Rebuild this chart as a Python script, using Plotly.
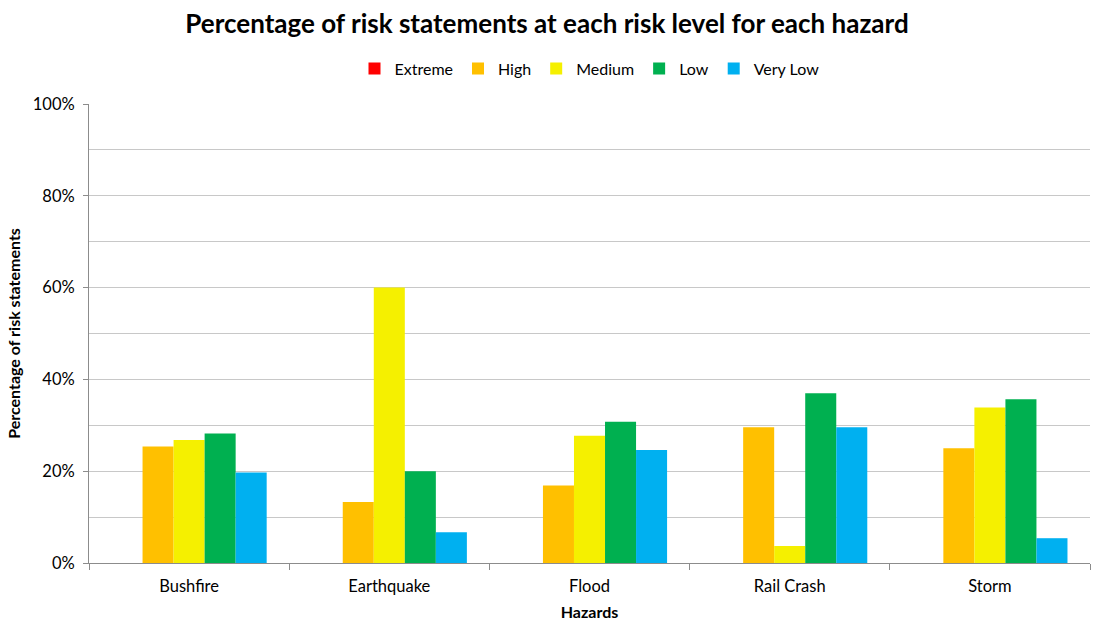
import plotly.graph_objects as go

hazards = ["Bushfire", "Earthquake", "Flood", "Rail Crash", "Storm"]
risk_levels = ["Extreme", "High", "Medium", "Low", "Very Low"]

# share of risk statements (fraction) per risk level, one list per level
extreme = [0.0, 0.0, 0.0, 0.0, 0.0]
high = [0.254, 0.133, 0.169, 0.296, 0.250]
medium = [0.268, 0.600, 0.277, 0.037, 0.339]
low = [0.282, 0.200, 0.308, 0.370, 0.357]
very_low = [0.197, 0.067, 0.246, 0.296, 0.054]

series = [extreme, high, medium, low, very_low]
colors = ["#FF0000", "#FFC000", "#F5F000", "#00B050", "#00B0F0"]

FONT = "Lato"

fig = go.Figure()
for name, vals, col in zip(risk_levels, series, colors):
    fig.add_trace(go.Bar(
        name=name, x=hazards, y=vals,
        marker=dict(color=col, line=dict(width=0)),
    ))

fig.update_layout(
    width=1094, height=622,
    paper_bgcolor="white", plot_bgcolor="white",
    font=dict(family=FONT, size=16, color="#000000"),
    title=dict(
        text="<b>Percentage of risk statements at each risk level for each hazard</b>",
        x=0.5, xanchor="center", y=0.962, yanchor="middle",
        font=dict(size=26, family=FONT, color="#000000"),
    ),
    barmode="group", bargap=0.225, bargroupgap=0.0,
    margin=dict(l=89, r=4, t=104, b=59),
    legend=dict(
        orientation="h", x=0.5, xanchor="center", y=1.077, yanchor="middle",
        font=dict(size=16, family=FONT), itemwidth=30, traceorder="normal",
    ),
    xaxis=dict(
        showline=True, linecolor="#8c8c8c", linewidth=1,
        ticks="outside", tickson="boundaries", ticklen=6, tickcolor="#8c8c8c",
        ticklabelstandoff=8,
        tickfont=dict(size=16.5, family=FONT),
        title=dict(text="<b>Hazards</b>", font=dict(size=16, family=FONT), standoff=12),
    ),
    yaxis=dict(
        range=[0, 1.0], dtick=0.2, tickformat=".0%",
        showline=True, linecolor="#8c8c8c", linewidth=1,
        showgrid=True, gridcolor="#c8c8c8", gridwidth=1,
        ticks="outside", ticklen=5, tickcolor="#8c8c8c",
        ticklabelstandoff=5,
        minor=dict(dtick=0.1, showgrid=True, gridcolor="#c8c8c8", gridwidth=1),
        zeroline=False,
        tickfont=dict(size=16.5, family=FONT),
        title=dict(text="<b>Percentage of risk statements</b>", font=dict(size=16, family=FONT), standoff=8),
    ),
)

fig.write_html("out.html")
